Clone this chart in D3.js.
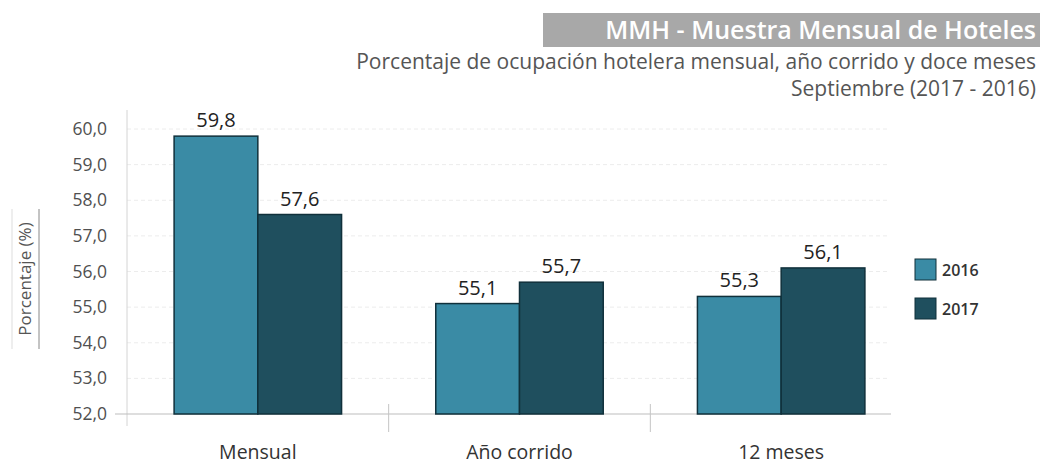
<!DOCTYPE html>
<html>
<head>
<meta charset="utf-8">
<script src="https://cdn.jsdelivr.net/npm/d3@7"></script>
<style>
  body { margin: 0; background: #fff; }
  svg { font-family: "Open Sans", sans-serif; }
</style>
</head>
<body>
<div id="chart"></div>
<script>
const categories = ['Mensual', 'Año corrido', '12 meses'];
const years = ['2016', '2017'];
const values2016 = [59.8, 55.1, 55.3];
const values2017 = [57.6, 55.7, 56.1];
const yTicks = [52, 53, 54, 55, 56, 57, 58, 59, 60];

const colors = {'2016': '#3a8ba5', '2017': '#1f4f5e'};

const W = 1040, H = 465;
const locale = d3.formatLocale({decimal: ',', thousands: '.', grouping: [3], currency: ['', '']});
const fmt = locale.format('.1f');

const svg = d3.select('#chart').append('svg')
    .attr('width', W)
    .attr('height', H);

// ... scales
const x0 = d3.scaleBand()
    .domain(categories)
    .range([127, 912])
    .paddingInner(0.36)
    .paddingOuter(0.18);

const x1 = d3.scaleBand()
    .domain(years)
    .range([0, x0.bandwidth()]);

const y = d3.scaleLinear()
    .domain([52, 60])
    .range([414, 129]);

const rows = categories.map((c, i) => ({
    cat: c,
    vals: [{year: '2016', v: values2016[i]}, {year: '2017', v: values2017[i]}]
}));

// ... grid lines
svg.append('g')
    .selectAll('line')
    .data(yTicks.slice(1))
    .join('line')
    .attr('x1', 127)
    .attr('x2', 890)
    .attr('y1', d => y(d))
    .attr('y2', d => y(d))
    .attr('stroke', '#ececec')
    .attr('stroke-dasharray', '4,3');

// ... y axis
const yAxis = d3.axisLeft(y)
    .tickValues(yTicks)
    .tickSize(0)
    .tickPadding(20)
    .tickFormat(fmt);

const yg = svg.append('g')
    .attr('transform', 'translate(127,0)')
    .call(yAxis);
yg.select('.domain').remove();
yg.selectAll('text')
    .attr('fill', '#505050')
    .style('font-family', '"Open Sans", sans-serif')
    .style('font-size', '17.5px');

svg.append('line')
    .attr('x1', 127).attr('x2', 127)
    .attr('y1', 110).attr('y2', 426)
    .attr('stroke', '#d4d4d4');

// ... baseline and category separators
svg.append('line')
    .attr('x1', 115).attr('x2', 891)
    .attr('y1', y(52)).attr('y2', y(52))
    .attr('stroke', '#bdbdbd');

svg.append('g')
    .selectAll('line')
    .data(categories.slice(1))
    .join('line')
    .attr('x1', d => x0(d) - x0.step() * x0.paddingInner() / 2)
    .attr('x2', d => x0(d) - x0.step() * x0.paddingInner() / 2)
    .attr('y1', 404)
    .attr('y2', 432)
    .attr('stroke', '#c4c4c4');

// ... category labels
svg.append('g')
    .selectAll('text')
    .data(categories)
    .join('text')
    .attr('x', d => x0(d) + x0.bandwidth() / 2)
    .attr('y', 459)
    .attr('text-anchor', 'middle')
    .attr('fill', '#333')
    .style('font-size', '19.5px')
    .text(d => d);

// ... bars
const groups = svg.append('g')
    .selectAll('g')
    .data(rows)
    .join('g')
    .attr('transform', d => 'translate(' + x0(d.cat) + ',0)');

groups.selectAll('rect')
    .data(d => d.vals)
    .join('rect')
    .attr('x', d => x1(d.year))
    .attr('y', d => y(d.v))
    .attr('width', x1.bandwidth())
    .attr('height', d => y(52) - y(d.v))
    .attr('fill', d => colors[d.year])
    .attr('stroke', '#10303b')
    .attr('stroke-width', 1.5);

groups.selectAll('text')
    .data(d => d.vals)
    .join('text')
    .attr('x', d => x1(d.year) + x1.bandwidth() / 2)
    .attr('y', d => y(d.v) - 9)
    .attr('text-anchor', 'middle')
    .attr('fill', '#222')
    .style('font-size', '20px')
    .text(d => fmt(d.v));

// ... legend
const legend = svg.append('g')
    .selectAll('g')
    .data(years)
    .join('g')
    .attr('transform', (d, i) => 'translate(915,' + (259 + i * 39) + ')');

legend.append('rect')
    .attr('width', 21)
    .attr('height', 21)
    .attr('fill', d => colors[d])
    .attr('stroke', '#10303b')
    .attr('stroke-width', 1);

legend.append('text')
    .attr('x', 27)
    .attr('y', 17)
    .attr('fill', '#333')
    .style('font-size', '16px')
    .style('font-weight', '600')
    .text(d => d);

// ... y axis label
const yl = svg.append('g')
    .attr('transform', 'translate(25,279) rotate(-90)');
yl.append('text')
    .attr('text-anchor', 'middle')
    .attr('dy', '0.35em')
    .attr('fill', '#555')
    .style('font-size', '17px')
    .text('Porcentaje (%)');
yl.append('line')
    .attr('x1', -70).attr('x2', 70)
    .attr('y1', 14).attr('y2', 14)
    .attr('stroke', '#888');
yl.append('line')
    .attr('x1', -70).attr('x2', 70)
    .attr('y1', -13).attr('y2', -13)
    .attr('stroke', '#ddd');

// ... title block
svg.append('rect')
    .attr('x', 543)
    .attr('y', 13)
    .attr('width', W - 543)
    .attr('height', 34)
    .attr('fill', '#a8a8a8');

svg.append('text')
    .attr('x', 1036)
    .attr('y', 39)
    .attr('text-anchor', 'end')
    .attr('fill', '#fff')
    .style('font-size', '25px')
    .style('font-weight', '600')
    .text('MMH - Muestra Mensual de Hoteles');

svg.append('text')
    .attr('x', 1036)
    .attr('y', 69)
    .attr('text-anchor', 'end')
    .attr('fill', '#555')
    .style('font-size', '21px')
    .text('Porcentaje de ocupación hotelera mensual, año corrido y doce meses');

svg.append('text')
    .attr('x', 1036)
    .attr('y', 96)
    .attr('text-anchor', 'end')
    .attr('fill', '#555')
    .style('font-size', '21px')
    .text('Septiembre (2017 - 2016)');
</script>
</body>
</html>
